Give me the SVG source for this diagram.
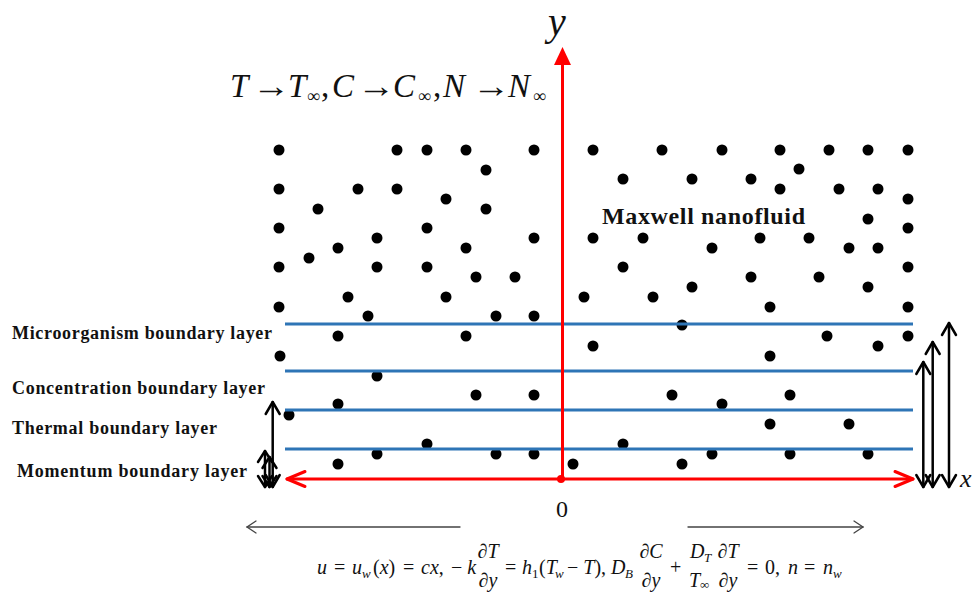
<svg xmlns="http://www.w3.org/2000/svg" width="977" height="592" viewBox="0 0 977 592">
<style>
.dot{fill:#000}
.blue{stroke:#2E75B6;stroke-width:3;fill:none}
.red{stroke:#FF0000;stroke-width:3;fill:none;stroke-linecap:round;stroke-linejoin:round}
.blk{stroke:#000;stroke-width:2.5;fill:none;stroke-linecap:round;stroke-linejoin:round}
.gray{stroke:#444;stroke-width:1.3;fill:none;stroke-linecap:round}
.lbl{font-family:"Liberation Serif","Times New Roman",serif;font-weight:bold;font-size:18px;fill:#111}
.m{font-family:"Liberation Serif","Times New Roman",serif;fill:#111}
.i{font-style:italic}
.f{font-size:20px}
.s{font-size:13px}
</style>
<g id="particles">
<circle class="dot" cx="279" cy="150" r="5.5"/><circle class="dot" cx="397" cy="150" r="5.5"/><circle class="dot" cx="427" cy="150" r="5.5"/><circle class="dot" cx="466" cy="150" r="5.5"/><circle class="dot" cx="534" cy="150" r="5.5"/>
<circle class="dot" cx="486" cy="170" r="5.5"/>
<circle class="dot" cx="279" cy="189" r="5.5"/><circle class="dot" cx="358" cy="189" r="5.5"/><circle class="dot" cx="397" cy="189" r="5.5"/><circle class="dot" cx="446" cy="199" r="5.5"/><circle class="dot" cx="318" cy="209" r="5.5"/><circle class="dot" cx="486" cy="209" r="5.5"/>
<circle class="dot" cx="279" cy="228" r="5.5"/><circle class="dot" cx="427" cy="228" r="5.5"/><circle class="dot" cx="377" cy="238" r="5.5"/><circle class="dot" cx="534" cy="238" r="5.5"/><circle class="dot" cx="338" cy="248" r="5.5"/><circle class="dot" cx="466" cy="248" r="5.5"/><circle class="dot" cx="309" cy="258" r="5.5"/>
<circle class="dot" cx="279" cy="267" r="5.5"/><circle class="dot" cx="377" cy="267" r="5.5"/><circle class="dot" cx="427" cy="267" r="5.5"/><circle class="dot" cx="476" cy="277" r="5.5"/><circle class="dot" cx="515" cy="277" r="5.5"/>
<circle class="dot" cx="348" cy="297" r="5.5"/><circle class="dot" cx="446" cy="297" r="5.5"/><circle class="dot" cx="279" cy="307" r="5.5"/><circle class="dot" cx="368" cy="316" r="5.5"/><circle class="dot" cx="496" cy="316" r="5.5"/><circle class="dot" cx="534" cy="316" r="5.5"/>
<circle class="dot" cx="593" cy="150" r="5.5"/><circle class="dot" cx="662" cy="150" r="5.5"/><circle class="dot" cx="722" cy="150" r="5.5"/><circle class="dot" cx="780" cy="150" r="5.5"/><circle class="dot" cx="829" cy="150" r="5.5"/><circle class="dot" cx="868" cy="150" r="5.5"/><circle class="dot" cx="908" cy="150" r="5.5"/>
<circle class="dot" cx="799" cy="169" r="5.5"/><circle class="dot" cx="623" cy="179" r="5.5"/><circle class="dot" cx="692" cy="179" r="5.5"/><circle class="dot" cx="751" cy="179" r="5.5"/><circle class="dot" cx="780" cy="189" r="5.5"/><circle class="dot" cx="839" cy="189" r="5.5"/><circle class="dot" cx="878" cy="189" r="5.5"/><circle class="dot" cx="908" cy="199" r="5.5"/>
<circle class="dot" cx="868" cy="219" r="5.5"/><circle class="dot" cx="908" cy="228" r="5.5"/><circle class="dot" cx="593" cy="238" r="5.5"/><circle class="dot" cx="643" cy="238" r="5.5"/><circle class="dot" cx="760" cy="238" r="5.5"/><circle class="dot" cx="809" cy="238" r="5.5"/><circle class="dot" cx="712" cy="248" r="5.5"/><circle class="dot" cx="849" cy="248" r="5.5"/><circle class="dot" cx="878" cy="248" r="5.5"/>
<circle class="dot" cx="623" cy="267" r="5.5"/><circle class="dot" cx="908" cy="267" r="5.5"/><circle class="dot" cx="751" cy="277" r="5.5"/><circle class="dot" cx="819" cy="277" r="5.5"/><circle class="dot" cx="692" cy="287" r="5.5"/><circle class="dot" cx="868" cy="287" r="5.5"/><circle class="dot" cx="584" cy="297" r="5.5"/><circle class="dot" cx="653" cy="297" r="5.5"/><circle class="dot" cx="770" cy="307" r="5.5"/><circle class="dot" cx="908" cy="307" r="5.5"/>
<circle class="dot" cx="682" cy="325" r="5.5"/>
<circle class="dot" cx="338" cy="336" r="5.5"/><circle class="dot" cx="466" cy="336" r="5.5"/><circle class="dot" cx="280" cy="356" r="5.5"/><circle class="dot" cx="593" cy="346" r="5.5"/><circle class="dot" cx="377" cy="376" r="5.5"/><circle class="dot" cx="476" cy="395" r="5.5"/><circle class="dot" cx="534" cy="395" r="5.5"/><circle class="dot" cx="338" cy="404" r="5.5"/><circle class="dot" cx="289" cy="415" r="5.5"/><circle class="dot" cx="427" cy="444" r="5.5"/><circle class="dot" cx="377" cy="454" r="5.5"/><circle class="dot" cx="496" cy="454" r="5.5"/><circle class="dot" cx="534" cy="454" r="5.5"/><circle class="dot" cx="338" cy="464" r="5.5"/><circle class="dot" cx="573" cy="464" r="5.5"/>
<circle class="dot" cx="770" cy="356" r="5.5"/><circle class="dot" cx="827" cy="336" r="5.5"/><circle class="dot" cx="878" cy="346" r="5.5"/><circle class="dot" cx="908" cy="336" r="5.5"/><circle class="dot" cx="672" cy="395" r="5.5"/><circle class="dot" cx="790" cy="395" r="5.5"/><circle class="dot" cx="722" cy="404" r="5.5"/><circle class="dot" cx="770" cy="424" r="5.5"/><circle class="dot" cx="849" cy="424" r="5.5"/><circle class="dot" cx="623" cy="444" r="5.5"/><circle class="dot" cx="712" cy="454" r="5.5"/><circle class="dot" cx="790" cy="454" r="5.5"/><circle class="dot" cx="868" cy="454" r="5.5"/><circle class="dot" cx="682" cy="464" r="5.5"/>
</g>
<g id="boundary-layers">
<line class="blue" x1="285" y1="324" x2="913" y2="324"/>
<line class="blue" x1="285" y1="371" x2="913" y2="371"/>
<line class="blue" x1="285" y1="410" x2="913" y2="410"/>
<line class="blue" x1="285" y1="449" x2="913" y2="449"/>
</g>
<g id="connectors">
<g id="axes">
<line class="red" x1="562.5" y1="479" x2="562.5" y2="62"/>
<polygon points="562.5,47 554,65 571,65" fill="#FF0000"/>
<line class="red" x1="287" y1="479" x2="913" y2="479"/>
<polyline class="red" points="305,471.5 287,479 305,486.5"/>
<polyline class="red" points="895,471.5 913,479 895,486.5"/>
<circle cx="561" cy="479" r="4" fill="#FF0000"/>
</g>
<g id="layer-arrows">
<line class="blk" x1="272.7" y1="402" x2="272.7" y2="487"/>
<polyline class="blk" points="265.7,414 272.7,402 279.7,414"/><polyline class="blk" points="265.7,475 272.7,487 279.7,475"/>
<line class="blk" x1="265" y1="451" x2="265" y2="487"/>
<polyline class="blk" points="258,462 265,451 272,462"/><polyline class="blk" points="258,476 265,487 272,476"/>
<line class="blk" x1="269.5" y1="457" x2="269.5" y2="487"/>
<polyline class="blk" points="262.5,468 269.5,457 276.5,468"/><polyline class="blk" points="262.5,476 269.5,487 276.5,476"/>
<line class="blk" x1="923.3" y1="362" x2="923.3" y2="487"/>
<polyline class="blk" points="916.3,374 923.3,362 930.3,374"/><polyline class="blk" points="916.3,475 923.3,487 930.3,475"/>
<line class="blk" x1="932.7" y1="342" x2="932.7" y2="487"/>
<polyline class="blk" points="925.7,354 932.7,342 939.7,354"/><polyline class="blk" points="925.7,475 932.7,487 939.7,475"/>
<line class="blk" x1="949" y1="323" x2="949" y2="487"/>
<polyline class="blk" points="942,335 949,323 956,335"/><polyline class="blk" points="942,475 949,487 956,475"/>
</g>
<g id="flow-arrows">
<line class="gray" x1="247" y1="527" x2="460" y2="527"/>
<polyline class="gray" points="256,521 247,527 256,533"/>
<line class="gray" x1="688" y1="527" x2="863" y2="527"/>
<polyline class="gray" points="854,521 863,527 854,533"/>
</g>
</g>
<g id="labels">
<text class="lbl" x="12" y="339" textLength="260" lengthAdjust="spacing">Microorganism  boundary  layer</text>
<text class="lbl" x="12" y="394" textLength="253" lengthAdjust="spacing">Concentration  boundary  layer</text>
<text class="lbl" x="12" y="434" textLength="205" lengthAdjust="spacing">Thermal  boundary  layer</text>
<text class="lbl" x="17" y="477" textLength="230" lengthAdjust="spacing">Momentum  boundary  layer</text>
<text class="lbl" x="602" y="224" style="font-size:24px" textLength="203" lengthAdjust="spacing">Maxwell  nanofluid</text>
<text class="m i" x="548" y="35" style="font-size:40px">y</text>
<text class="m i" x="960" y="487" style="font-size:26px">x</text>
<text class="m" x="562" y="517" style="font-size:24px" text-anchor="middle">0</text>
</g>
<g id="far-field" class="m" style="font-size:33px">
<text class="i" x="230" y="96.5">T</text>
<text x="252" y="96.5" textLength="38" lengthAdjust="spacingAndGlyphs">→</text>
<text class="i" x="288" y="96.5">T</text>
<text x="307" y="102" style="font-size:18px">∞</text>
<text x="321" y="96.5">,</text>
<text class="i" x="332" y="96.5">C</text>
<text x="357" y="96.5" textLength="38" lengthAdjust="spacingAndGlyphs">→</text>
<text class="i" x="393" y="96.5">C</text>
<text x="418" y="102" style="font-size:18px">∞</text>
<text x="433" y="96.5">,</text>
<text class="i" x="443" y="96.5">N</text>
<text x="472" y="96.5" textLength="38" lengthAdjust="spacingAndGlyphs">→</text>
<text class="i" x="508" y="96.5">N</text>
<text x="533" y="102" style="font-size:18px">∞</text>
</g>
<g id="boundary-conditions" class="m f">
<text class="i" x="317" y="574">u</text>
<text x="334" y="574">=</text>
<text class="i" x="352" y="574">u</text><text class="i s" x="362" y="578">w</text>
<text x="373" y="574">(<tspan class="i">x</tspan>)</text>
<text x="403" y="574">=</text>
<text x="421" y="574"><tspan class="i">cx</tspan>,</text>
<text x="451" y="574">− <tspan class="i">k</tspan></text>
<text x="488" y="558" text-anchor="middle">∂<tspan class="i">T</tspan></text>
<text x="488" y="587" text-anchor="middle">∂<tspan class="i">y</tspan></text>
<text x="505" y="574">=</text>
<text class="i" x="522" y="574">h</text><text class="s" x="532" y="578">1</text>
<text x="539" y="574">(<tspan class="i">T</tspan></text><text class="i s" x="555" y="578">w</text>
<text x="567" y="574">− <tspan class="i">T</tspan>),</text>
<text class="i" x="611" y="574">D</text><text class="i s" x="625" y="578">B</text>
<text x="651" y="558" text-anchor="middle">∂<tspan class="i">C</tspan></text>
<text x="651" y="587" text-anchor="middle">∂<tspan class="i">y</tspan></text>
<text x="670" y="574">+</text>
<text class="i" x="690" y="558">D</text><text class="i s" x="704" y="562">T</text>
<text class="i" x="689" y="587">T</text><text class="s" x="700" y="589">∞</text>
<text x="728" y="558" text-anchor="middle">∂<tspan class="i">T</tspan></text>
<text x="728" y="587" text-anchor="middle">∂<tspan class="i">y</tspan></text>
<text x="747" y="574">=</text>
<text x="765" y="574">0,</text>
<text class="i" x="788" y="574">n</text>
<text x="804" y="574">=</text>
<text class="i" x="823" y="574">n</text>
<text class="i s" x="833" y="578">w</text>
</g>
</svg>
